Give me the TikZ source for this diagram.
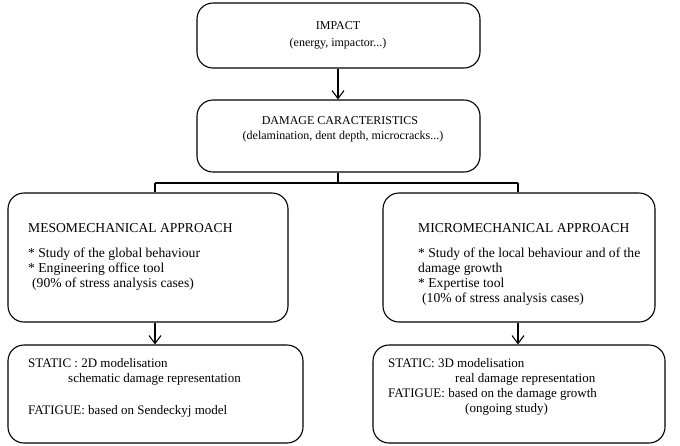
\documentclass[tikz,border=0pt]{standalone}
\usepackage{fontspec}
\setmainfont{Liberation Serif}
\usetikzlibrary{arrows.meta}
\begin{document}
\begin{tikzpicture}[x=1pt,y=-1pt,
  box/.style={draw, line width=1.1pt, rounded corners=16pt, inner sep=0pt},
  conn/.style={line width=1.1pt},
  arr/.style={line width=1.1pt, -{Straight Barb[length=8pt,width=12pt]}},
  ctext/.style={inner sep=0pt, anchor=base, font=\fontsize{12}{14}\selectfont},
  ltext/.style={inner sep=0pt, anchor=base west, font=\fontsize{13.6}{15}\selectfont},
  btext/.style={inner sep=0pt, anchor=base west, font=\fontsize{13}{15}\selectfont}]
\useasboundingbox (0,0) rectangle (680,445);
% boxes
\node[box, minimum width=283pt, minimum height=65pt] (impact) at (338.5,35.5) {};
\node[box, minimum width=283pt, minimum height=72pt] (damage) at (338.5,136) {};
\node[box, minimum width=280pt, minimum height=129pt] (meso) at (148,257.5) {};
\node[box, minimum width=272pt, minimum height=129pt] (micro) at (519,257.5) {};
\node[box, minimum width=295pt, minimum height=98pt] (statL) at (155.5,394) {};
\node[box, minimum width=292pt, minimum height=98pt] (statR) at (519,394) {};
% junctions
\coordinate (jM) at (338,183);
\coordinate (jL) at (155,183);
\coordinate (jR) at (518,183);
% connectors
\draw[arr] (impact.south -| jM) -- (damage.north -| jM);
\draw[conn] (damage.south -| jM) -- (jM);
\draw[conn] (jL) -- (jR);
\draw[conn] (jL) -- (jL |- meso.north);
\draw[conn] (jR) -- (jR |- micro.north);
\draw[arr] (meso.south -| jL) -- (statL.north -| jL);
\draw[arr] (micro.south -| jR) -- (statR.north -| jR);
% top texts
\node[ctext] (t1) at (338,29) {IMPACT};
\node[ctext] (t2) at (338,46) {(energy, impactor...)};
\node[ctext] (t3) at (340,124) {DAMAGE CARACTERISTICS};
\node[ctext] (t4) at (343,139) {(delamination, dent depth, microcracks...)};
% meso texts
\node[ltext] (m1) at (28,232) {MESOMECHANICAL APPROACH};
\node[ltext] (m2) at (28,257) {* Study of the global behaviour};
\node[ltext] (m3) at (28,272) {* Engineering office tool};
\node[ltext] (m4) at (32,287) {(90\% of stress analysis cases)};
% micro texts
\node[ltext] (r1) at (418,232) {MICROMECHANICAL APPROACH};
\node[ltext] (r2) at (418,257) {* Study of the local behaviour and of the};
\node[ltext] (r3) at (418,272) {damage growth};
\node[ltext] (r4) at (418,287) {* Expertise tool};
\node[ltext] (r5) at (422,302) {(10\% of stress analysis cases)};
% static left
\node[btext] (s1) at (28,367) {STATIC : 2D modelisation};
\node[btext] (s2) at (68,382) {schematic damage representation};
\node[btext] (s3) at (28,414) {FATIGUE: based on Sendeckyj model};
% static right
\node[btext] (q1) at (388,367) {STATIC: 3D modelisation};
\node[btext] (q2) at (455,382) {real damage representation};
\node[btext] (q3) at (388,397) {FATIGUE: based on the damage growth};
\node[btext] (q4) at (465,412) {(ongoing study)};
\end{tikzpicture}
\end{document}
